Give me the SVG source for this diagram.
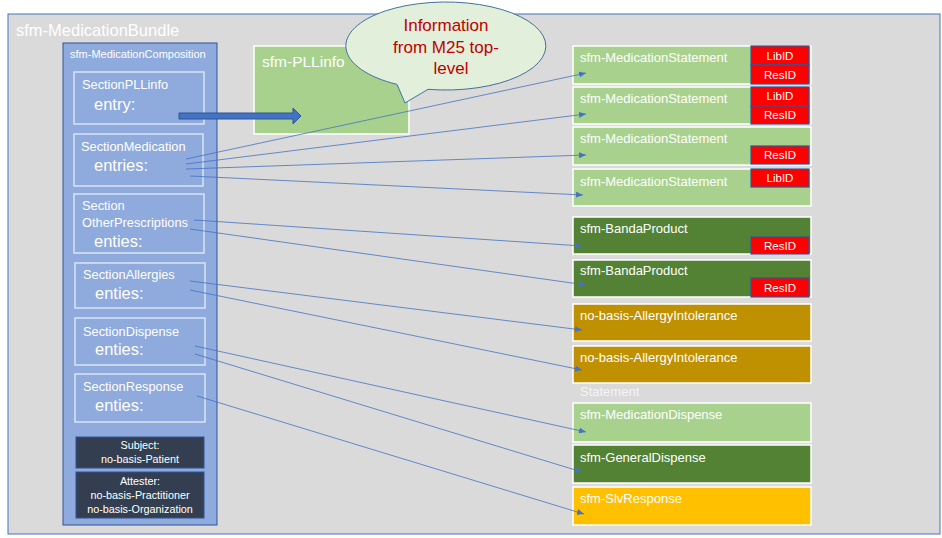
<svg xmlns="http://www.w3.org/2000/svg" width="942" height="538" viewBox="0 0 942 538">
<style>
text{font-family:"Liberation Sans",Arial,sans-serif;fill:#fff}
.sec{fill:#8faadc;stroke:#dae3f3;stroke-width:1.5}
.st{font-size:12.8px}
.en{font-size:16.5px}
.dk{fill:#333f50;stroke:#2f5597;stroke-width:1}
.sm{font-size:10.8px;text-anchor:middle}
.rb{stroke:#fff;stroke-width:1.5}
.lg{fill:#a9d18e}
.dg{fill:#548235}
.al{fill:#bf9000}
.yl{fill:#ffc000}
.rt{font-size:13px}
.id{fill:#ff0000;stroke:#2f5597;stroke-width:1.2}
.idt{font-size:11.5px;text-anchor:middle}
.cn{fill:none;stroke:#4472c4;stroke-width:0.8;marker-end:url(#ah)}
.co{fill:#c00000;font-size:17px;text-anchor:middle}
</style>
<defs>
<marker id="ah" markerUnits="userSpaceOnUse" markerWidth="8" markerHeight="6" refX="7" refY="3" orient="auto">
<path d="M0,0 L7,3 L0,6 Z" fill="#4472c4"/>
</marker>
</defs>
<rect width="942" height="538" fill="#fff"/>
<g id="bundle">
<rect x="8" y="14" width="932" height="520" fill="#dadada" stroke="#4472c4" stroke-width="1"/>
<text x="16" y="36" style="font-size:16.5px">sfm-MedicationBundle</text>
</g>
<g id="composition">
<rect x="63" y="43" width="154" height="482" fill="#8faadc" stroke="#2f5597" stroke-width="1"/>
<text x="70" y="58" style="font-size:11px">sfm-MedicationComposition</text>
</g>
<g id="sectionPLLinfo">
<rect class="sec" x="74" y="72" width="130" height="52"/>
<text class="st" x="82" y="89">SectionPLLinfo</text>
<text class="en" x="94" y="110">entry:</text>
</g>
<g id="sectionMedication">
<rect class="sec" x="74" y="134" width="129" height="52"/>
<text class="st" x="81" y="151">SectionMedication</text>
<text class="en" x="94" y="171">entries:</text>
</g>
<g id="sectionOther">
<rect class="sec" x="74" y="194" width="130" height="59"/>
<text class="st" x="82" y="210">Section</text>
<text class="st" x="82" y="227">OtherPrescriptions</text>
<text class="en" x="94" y="247">enties:</text>
</g>
<g id="sectionAllergies">
<rect class="sec" x="75" y="263" width="130" height="45"/>
<text class="st" x="83" y="279">SectionAllergies</text>
<text class="en" x="95" y="299">enties:</text>
</g>
<g id="sectionDispense">
<rect class="sec" x="75" y="318" width="130" height="47"/>
<text class="st" x="83" y="336">SectionDispense</text>
<text class="en" x="95" y="355">enties:</text>
</g>
<g id="sectionResponse">
<rect class="sec" x="75" y="374" width="130" height="48"/>
<text class="st" x="83" y="391">SectionResponse</text>
<text class="en" x="95" y="411">enties:</text>
</g>
<g id="subject">
<rect class="dk" x="76" y="437" width="128" height="31"/>
<text class="sm" x="140" y="449">Subject:</text>
<text class="sm" x="140" y="463">no-basis-Patient</text>
</g>
<g id="attester">
<rect class="dk" x="76" y="472" width="128" height="46"/>
<text class="sm" x="140" y="485">Attester:</text>
<text class="sm" x="140" y="499">no-basis-Practitioner</text>
<text class="sm" x="140" y="513">no-basis-Organization</text>
</g>
<g id="pllinfo">
<rect x="254" y="46" width="155" height="88" fill="#a9d18e" stroke="#fff" stroke-width="1.5"/>
<text x="262" y="67" style="font-size:15.5px">sfm-PLLinfo</text>
</g>
<g id="ms1">
<rect class="rb lg" x="573" y="46" width="238" height="38"/>
<text class="rt" x="580" y="62">sfm-MedicationStatement</text>
<rect class="id" x="751" y="46" width="58" height="19"/>
<text class="idt" x="780" y="60">LibID</text>
<rect class="id" x="751" y="65" width="58" height="19"/>
<text class="idt" x="780" y="79">ResID</text>
</g>
<g id="ms2">
<rect class="rb lg" x="573" y="87" width="238" height="37"/>
<text class="rt" x="580" y="103">sfm-MedicationStatement</text>
<rect class="id" x="751" y="87" width="58" height="19"/>
<text class="idt" x="780" y="100">LibID</text>
<rect class="id" x="751" y="106" width="58" height="18"/>
<text class="idt" x="780" y="119">ResID</text>
</g>
<g id="ms3">
<rect class="rb lg" x="573" y="127" width="238" height="38"/>
<text class="rt" x="580" y="143">sfm-MedicationStatement</text>
<rect class="id" x="751" y="146" width="58" height="18"/>
<text class="idt" x="780" y="159">ResID</text>
</g>
<g id="ms4">
<rect class="rb lg" x="573" y="169" width="238" height="37"/>
<text class="rt" x="580" y="186">sfm-MedicationStatement</text>
<rect class="id" x="751" y="169" width="58" height="18"/>
<text class="idt" x="780" y="182">LibID</text>
</g>
<g id="banda1">
<rect class="rb dg" x="573" y="217" width="238" height="37"/>
<text class="rt" x="580" y="233">sfm-BandaProduct</text>
<rect class="id" x="751" y="237" width="58" height="17"/>
<text class="idt" x="780" y="250">ResID</text>
</g>
<g id="banda2">
<rect class="rb dg" x="573" y="260" width="238" height="37"/>
<text class="rt" x="580" y="275">sfm-BandaProduct</text>
<rect class="id" x="751" y="278" width="58" height="19"/>
<text class="idt" x="780" y="292">ResID</text>
</g>
<g id="allergy1">
<rect class="rb al" x="573" y="304" width="238" height="37"/>
<text class="rt" x="580" y="320">no-basis-AllergyIntolerance</text>
</g>
<g id="allergy2">
<rect class="rb al" x="573" y="346" width="238" height="37"/>
<text class="rt" x="580" y="362">no-basis-AllergyIntolerance</text>
</g>
<text class="rt" x="580" y="396" style="fill:#f4f4f4">Statement</text>
<g id="meddispense">
<rect class="rb lg" x="573" y="403" width="238" height="39"/>
<text class="rt" x="580" y="419">sfm-MedicationDispense</text>
</g>
<g id="gendispense">
<rect class="rb dg" x="573" y="445" width="238" height="38"/>
<text class="rt" x="580" y="462">sfm-GeneralDispense</text>
</g>
<g id="slvresponse">
<rect class="rb yl" x="573" y="487" width="238" height="38"/>
<text class="rt" x="580" y="503">sfm-SlvResponse</text>
</g>
<g id="connectors">
<path d="M179,113 L293,113 L293,108 L301,116 L293,124 L293,119 L179,119 Z" fill="#4472c4" stroke="#2f5597" stroke-width="1"/>
<line class="cn" x1="186" y1="159" x2="586" y2="73"/>
<line class="cn" x1="186" y1="164" x2="586" y2="114"/>
<line class="cn" x1="186" y1="169" x2="586" y2="155"/>
<line class="cn" x1="190" y1="176" x2="583" y2="195"/>
<line class="cn" x1="194" y1="220" x2="582" y2="246"/>
<line class="cn" x1="190" y1="229" x2="586" y2="285"/>
<line class="cn" x1="190" y1="281" x2="582" y2="330"/>
<line class="cn" x1="190" y1="290" x2="582" y2="370"/>
<line class="cn" x1="195" y1="346" x2="586" y2="432"/>
<line class="cn" x1="195" y1="354" x2="582" y2="472"/>
<line class="cn" x1="197" y1="396" x2="584" y2="514"/>
</g>
<g id="callout">
<path d="M397,84.4 A100,44 0 1 1 428,89.3 L405,103 Z" fill="#e2efda" stroke="#41719c" stroke-width="1"/>
<text class="co" x="446" y="31">Information</text>
<text class="co" x="446" y="53">from M25 top-</text>
<text class="co" x="451" y="74">level</text>
</g>
</svg>
